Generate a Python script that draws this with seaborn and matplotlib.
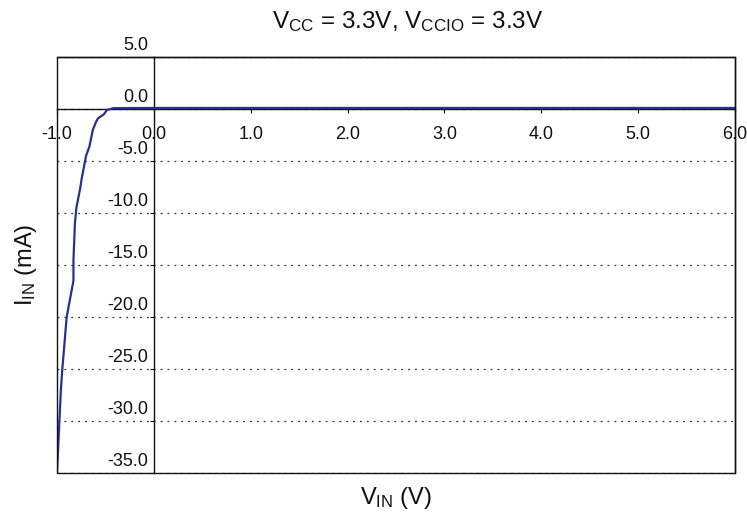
import matplotlib
matplotlib.use("Agg")
import matplotlib.pyplot as plt
import matplotlib.transforms as mtransforms
from matplotlib.patches import Rectangle
import seaborn as sns
import pandas as pd

# ---- data ----
v_in = [-1.0, -0.985, -0.975, -0.96, -0.945, -0.90, -0.83, -0.83, -0.815, -0.80,
        -0.76, -0.745, -0.70, -0.665, -0.63, -0.60, -0.577, -0.545, -0.515, -0.484,
        -0.42, 0.0, 1.0, 2.0, 3.0, 4.0, 5.0, 6.0]
i_in = [-35.0, -32.0, -30.0, -27.0, -25.0, -20.0, -16.5, -14.5, -11.0, -9.5,
        -7.6, -6.7, -4.5, -3.6, -2.0, -1.3, -0.9, -0.7, -0.5, -0.1,
        0.08, 0.1, 0.1, 0.1, 0.1, 0.1, 0.1, 0.1]
x_ticks = [-1.0, 0.0, 1.0, 2.0, 3.0, 4.0, 5.0, 6.0]
y_ticks = [5.0, 0.0, -5.0, -10.0, -15.0, -20.0, -25.0, -30.0, -35.0]
title = r"V$_{\mathregular{CC}}$ = 3.3V, V$_{\mathregular{CCIO}}$ = 3.3V"
xlabel = r"V$_{\mathregular{IN}}$ (V)"
ylabel = r"I$_{\mathregular{IN}}$ (mA)"

sns.set_theme(style="white")
plt.rcParams["font.family"] = ["Liberation Sans", "DejaVu Sans"]
plt.rcParams["mathtext.default"] = "regular"

fig = plt.figure(figsize=(7.47, 5.14), dpi=100)
ax = fig.add_axes([57 / 747, 41 / 514, (735 - 57) / 747, (473 - 57) / 514])

df = pd.DataFrame({"V": v_in, "I": i_in})
sns.lineplot(data=df, x="V", y="I", ax=ax, color="#2b2f8f", linewidth=1.6,
             estimator=None, sort=False, zorder=5)

ax.set_xlim(-1, 6)
ax.set_ylim(-35, 5)
ax.set_xticks(x_ticks)
ax.set_yticks(y_ticks)
ax.set_xticklabels([f"{t:.1f}" for t in x_ticks])
ax.set_yticklabels([f"{t:.1f}" for t in y_ticks])

# axes through the origin
ax.spines["left"].set_position(("data", 0))
ax.spines["bottom"].set_position(("data", 0))
for s in ax.spines.values():
    s.set_color("#111111")
    s.set_linewidth(1.0)
# outer frame
ax.add_patch(Rectangle((0, 0), 1, 1, transform=ax.transAxes, fill=False,
                       edgecolor="#111111", linewidth=1.0, clip_on=False, zorder=6))

ax.tick_params(axis="x", direction="out", length=3, width=0.8, pad=9,
               labelsize=13, colors="#111111")
ax.tick_params(axis="y", direction="out", length=3, width=0.8, pad=1,
               labelsize=13, colors="#111111")
ax.tick_params(axis="y", left=True)
ax.tick_params(axis="x", bottom=True)

offset = mtransforms.ScaledTranslation(0, 2 / 72, fig.dpi_scale_trans)
for lab in ax.get_yticklabels():
    lab.set_verticalalignment("bottom")
    lab.set_transform(lab.get_transform() + offset)

ax.yaxis.grid(True, linestyle=(0, (1.5, 4)), color="#333333", linewidth=0.9)
ax.xaxis.grid(False)

ax.set_xlabel(xlabel, fontsize=17, color="#111111")
ax.set_ylabel(ylabel, fontsize=17, color="#111111")
ax.xaxis.set_label_coords(0.5, -0.028)
ax.yaxis.set_label_coords(-0.026, 0.5)
ax.set_title(title, fontsize=17.5, color="#111111", x=0.518, pad=21)

fig.savefig("out.png", dpi=100)
